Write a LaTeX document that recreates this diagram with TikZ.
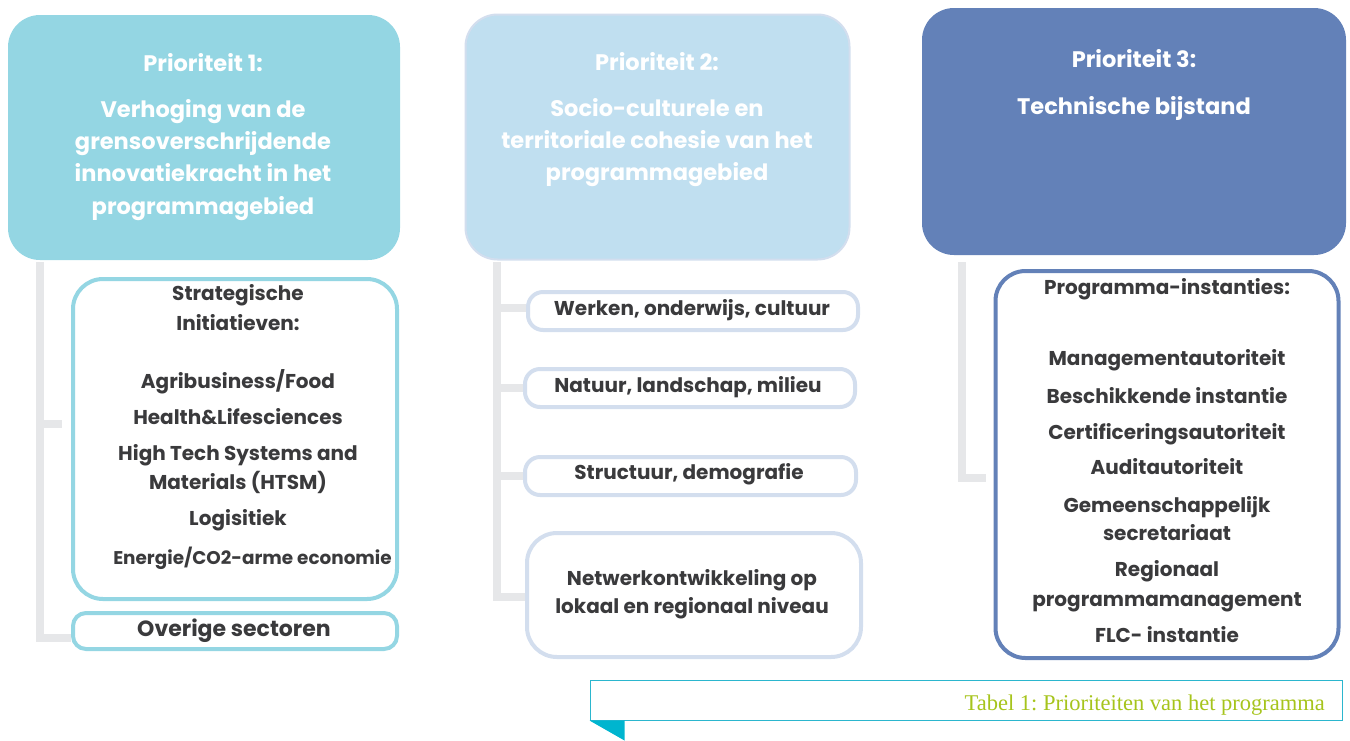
\documentclass[tikz,border=0pt]{standalone}
\usepackage{fontspec}
\setmainfont{Poppins}
\newfontfamily\capfont{Liberation Serif}
\frenchspacing
\definecolor{pone}{HTML}{94D6E3}
\definecolor{ptwo}{HTML}{C0DFF0}
\definecolor{ptwoline}{HTML}{D3DEEE}
\definecolor{pthree}{HTML}{6381B8}
\definecolor{brack}{HTML}{E6E7E9}
\definecolor{txt}{HTML}{3A3A3C}
\definecolor{capline}{HTML}{2BB6CE}
\definecolor{captxt}{HTML}{A6C41C}
\definecolor{captri}{HTML}{00B5CF}
\tikzset{
  headbox/.style={rounded corners=32pt, inner sep=0pt},
  subbox/.style={rounded corners=#1, draw, line width=4pt, fill=white, inner sep=0pt},
  htext/.style={text=white, font=\bfseries\fontsize{22.5}{27}\selectfont, align=center, inner sep=0pt, anchor=base, yshift=-8pt},
  btext/.style={text=txt, font=\bfseries\fontsize{20}{24}\selectfont, align=center, inner sep=0pt, anchor=base, yshift=-7pt},
  bracketline/.style={draw=brack, line width=8pt},
}
\begin{document}
\begin{tikzpicture}[x=1pt,y=-1pt]
\useasboundingbox (0,0) rectangle (1350,740);

% header boxes
\node[headbox, fill=pone, minimum width=392pt, minimum height=245pt] (h1) at (204,137.5) {};
\node[headbox, fill=ptwo, draw=ptwoline, line width=2pt, minimum width=384pt, minimum height=245pt] (h2) at (657.5,137) {};
\node[headbox, fill=pthree, minimum width=424pt, minimum height=247pt] (h3) at (1134,131.5) {};

\node[htext] (h1a) at (203,63) {Prioriteit 1:};
\node[htext] (h1b) at (203,109) {Verhoging van de};
\node[htext] (h1c) at (203,141) {grensoverschrijdende};
\node[htext] (h1d) at (203,173) {innovatiekracht in het};
\node[htext] (h1e) at (203,206) {programmagebied};

\node[htext] (h2a) at (657,62) {Prioriteit 2:};
\node[htext] (h2b) at (657,108) {Socio-culturele en};
\node[htext] (h2c) at (657,140) {territoriale cohesie van het};
\node[htext] (h2d) at (657,172) {programmagebied};

\node[htext] (h3a) at (1134,59) {Prioriteit 3:};
\node[htext] (h3b) at (1134,106) {Technische bijstand};

% column 1
\node[subbox=30pt, draw=pone, minimum width=324pt, minimum height=320pt] (s1) at (235,439) {};
\node[subbox=13pt, draw=pone, minimum width=324pt, minimum height=36pt] (s1b) at (235,631) {};
\node[btext] at (238,293) {Strategische};
\node[btext] at (238,323) {Initiatieven:};
\node[btext] at (238,381) {Agribusiness/Food};
\node[btext] at (238,417) {Health\&Lifesciences};
\node[btext] at (238,453) {High Tech Systems and};
\node[btext] at (238,482) {Materials (HTSM)};
\node[btext] at (238,518) {Logisitiek};
\node[btext, font=\bfseries\fontsize{18.4}{22}\selectfont] at (252.5,557) {Energie/CO2-arme economie};
\node[btext, font=\bfseries\fontsize{22}{26}\selectfont] at (234,629) {Overige sectoren};

\coordinate (c1top) at (40,262);
\coordinate (c1mid) at (40,424);
\coordinate (c1midend) at (62,424);
\coordinate (c1bot) at (40,638);
\draw[bracketline] (c1top) -- (c1bot) -- (s1b.west |- c1bot);
\draw[bracketline] (c1mid) -- (c1midend);

% column 2
\node[subbox=15pt, draw=ptwoline, minimum width=330pt, minimum height=38pt] (s2a) at (693,311) {};
\node[subbox=15pt, draw=ptwoline, minimum width=330pt, minimum height=38pt] (s2b) at (690,388) {};
\node[subbox=15pt, draw=ptwoline, minimum width=331pt, minimum height=38pt] (s2c) at (690.5,476) {};
\node[subbox=30pt, draw=ptwoline, minimum width=334pt, minimum height=124pt] (s2d) at (694,595) {};
\node[btext] at (692,308) {Werken, onderwijs, cultuur};
\node[btext] at (688,385) {Natuur, landschap, milieu};
\node[btext] at (689,472) {Structuur, demografie};
\node[btext] at (692,578) {Netwerkontwikkeling op};
\node[btext] at (692,606) {lokaal en regionaal niveau};

\coordinate (c2top) at (497,262);
\coordinate (c2bot) at (497,597);
\draw[bracketline] (c2top) -- (c2bot) -- (s2d.west |- c2bot);
\draw[bracketline] (497,308) -- (s2a.west |- 0,308);
\draw[bracketline] (497,388) -- (s2b.west |- 0,388);
\draw[bracketline] (497,476) -- (s2c.west |- 0,476);

% column 3
\node[subbox=30pt, draw=pthree, minimum width=343pt, minimum height=387pt] (s3) at (1167,464.5) {};
\node[btext] at (1167,287) {Programma-instanties:};
\node[btext] at (1167,358) {Managementautoriteit};
\node[btext] at (1167,396) {Beschikkende instantie};
\node[btext] at (1167,432) {Certificeringsautoriteit};
\node[btext] at (1167,467) {Auditautoriteit};
\node[btext] at (1167,505) {Gemeenschappelijk};
\node[btext] at (1167,533) {secretariaat};
\node[btext] at (1167,569) {Regionaal};
\node[btext] at (1167,599) {programmamanagement};
\node[btext] at (1167,635) {FLC- instantie};

\coordinate (c3top) at (962,262);
\coordinate (c3bot) at (962,478);
\coordinate (c3end) at (986,478);
\draw[bracketline] (c3top) -- (c3bot) -- (c3end);

% caption
\node[draw=capline, line width=1pt, minimum width=752pt, minimum height=40pt, inner sep=0pt] (cap) at (966,700) {};
\node[anchor=base east, text=captxt, font=\capfont\fontsize{22.5}{26}\selectfont, inner sep=0pt] (captext) at (1325,710) {Tabel 1: Prioriteiten van het programma};
\fill[captri] (cap.south west) -- ++(35,0) -- ++(0,20) -- cycle;
\end{tikzpicture}
\end{document}
